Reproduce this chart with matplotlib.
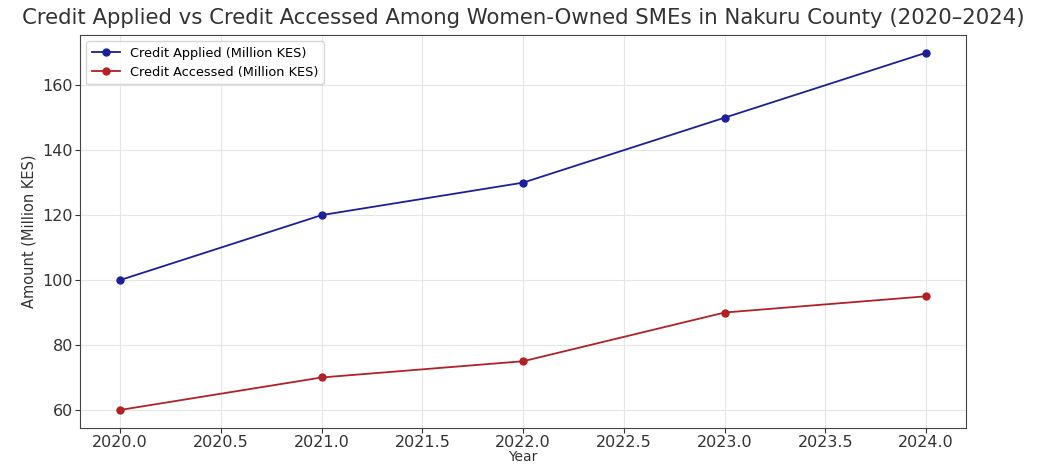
import matplotlib.pyplot as plt

years = [2020, 2021, 2022, 2023, 2024]
credit_applied = [100, 120, 130, 150, 170]
credit_accessed = [60, 70, 75, 90, 95]

fig = plt.figure(figsize=(10.38, 4.65), dpi=100)
ax = fig.add_axes([0.077, 0.08, 0.854, 0.845])

ax.plot(years, credit_applied, marker='o', markersize=5, color='#1c1f9a',
        linewidth=1.3, label='Credit Applied (Million KES)')
ax.plot(years, credit_accessed, marker='o', markersize=5, color='#b02226',
        linewidth=1.3, label='Credit Accessed (Million KES)')

ax.set_title('Credit Applied vs Credit Accessed Among Women-Owned SMEs in Nakuru County (2020\u20132024)',
             fontsize=15.3, color='#333333', pad=8)
ax.set_xlabel('Year', fontsize=10, color='#333333', labelpad=0)
ax.set_ylabel('Amount (Million KES)', fontsize=10.5, color='#333333')
ax.tick_params(labelsize=11.5, colors='#333333', pad=1.5)
ax.grid(True, color='#e6e6e6', linewidth=0.8)
ax.legend(loc='upper left', fontsize=9.3, frameon=True, handlelength=2.2)
for s in ax.spines.values():
    s.set_color('#444444')

plt.savefig('out.png', dpi=100)
plt.close()
